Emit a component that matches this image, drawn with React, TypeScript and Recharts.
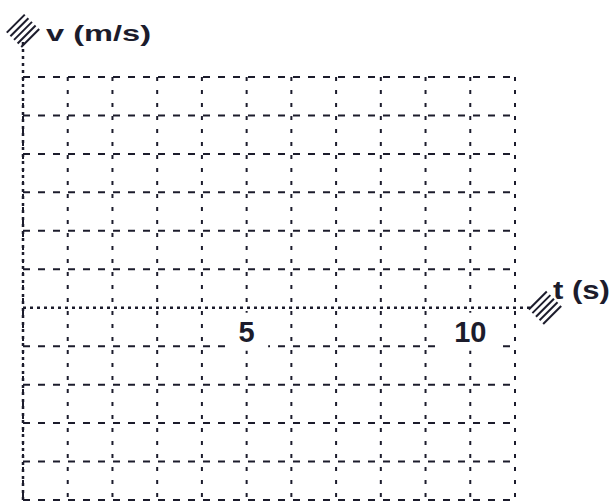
import React from 'react';
import { ComposedChart, Scatter, XAxis, YAxis, CartesianGrid, ReferenceLine, ReferenceDot } from 'recharts';

// grid + axis values (t in s, v in m/s)
const tDomain = [0, 11];
const vDomain = [-5, 6];
const tGridTicks = [1, 2, 3, 4, 5, 6, 7, 8, 9, 10, 11];
const vGridTicks = [-5, -4, -3, -2, -1, 1, 2, 3, 4, 5, 6];
const tLabelTicks = [5, 10];
const tAxisEnd = 11.35;
const vAxisEnd = 6.95;
const tArrowAt = 11.67;
const vArrowAt = 7.2;

const INK = '#1c1c2c';
const FONT = '"Liberation Sans", Arial, sans-serif';

const tickData = tLabelTicks.map((t) => ({ t, v: 0, label: String(t) }));

function Hatch({ cx, cy }: any) {
  if (cx == null || cy == null) return null;
  const lines = [-2, -1, 0, 1, 2].map((k) => {
    const o = k * 3.6;
    return (
      <line
        key={k}
        x1={cx + o - 9}
        y1={cy + o + 9}
        x2={cx + o + 9}
        y2={cy + o - 9}
        stroke={INK}
        strokeWidth={2}
      />
    );
  });
  return <g>{lines}</g>;
}

function VArrow(props: any) {
  const { cx, cy } = props;
  return (
    <g>
      <Hatch cx={cx} cy={cy} />
      <text x={cx + 23} y={cy + 10} fontFamily={FONT} fontWeight="bold" fontSize={22} fill={INK}
        textLength={105} lengthAdjust="spacingAndGlyphs">v (m/s)</text>
    </g>
  );
}

function TArrow(props: any) {
  const { cx, cy } = props;
  return (
    <g>
      <Hatch cx={cx} cy={cy} />
      <text x={cx + 8} y={cy - 9} fontFamily={FONT} fontWeight="bold" fontSize={26} fill={INK}
        textLength={57} lengthAdjust="spacingAndGlyphs">t (s)</text>
    </g>
  );
}

function TickLabel(props: any) {
  const { cx, cy, payload } = props;
  const w = 26 + 17 * payload.label.length;
  return (
    <g>
      <rect x={cx - w / 2} y={cy + 5} width={w} height={38} fill="#fff" />
      <text x={cx} y={cy + 34} textAnchor="middle" fontFamily={FONT} fontWeight="bold" fontSize={29} fill={INK}>
        {payload.label}
      </text>
    </g>
  );
}

export default function App() {
  return (
    <div style={{ position: 'absolute', left: 0, top: 0, background: '#fff' }}>
      <ComposedChart width={613} height={504} margin={{ top: 77, right: 98, bottom: 4, left: 23 }}>
        <XAxis type="number" dataKey="t" domain={tDomain} ticks={tGridTicks} hide allowDataOverflow />
        <YAxis type="number" dataKey="v" domain={vDomain} ticks={vGridTicks} hide allowDataOverflow />
        <CartesianGrid vertical={false} stroke={INK} strokeWidth={2} strokeDasharray="7 8" />
        <CartesianGrid horizontal={false} stroke={INK} strokeWidth={2} strokeDasharray="4 9" />
        <ReferenceLine
          segment={[{ x: 0, y: vDomain[0] }, { x: 0, y: vAxisEnd }]}
          ifOverflow="visible"
          stroke={INK}
          strokeWidth={2.5}
          strokeDasharray="3 4"
        />
        <ReferenceLine
          segment={[{ x: 0, y: 0 }, { x: tAxisEnd, y: 0 }]}
          ifOverflow="visible"
          stroke={INK}
          strokeWidth={2.5}
          strokeDasharray="3 4"
        />
        <ReferenceDot x={0} y={vArrowAt} ifOverflow="visible" shape={VArrow} />
        <ReferenceDot x={tArrowAt} y={0} ifOverflow="visible" shape={TArrow} />
        <Scatter data={tickData} dataKey="v" shape={TickLabel} isAnimationActive={false} />
      </ComposedChart>
    </div>
  );
}
